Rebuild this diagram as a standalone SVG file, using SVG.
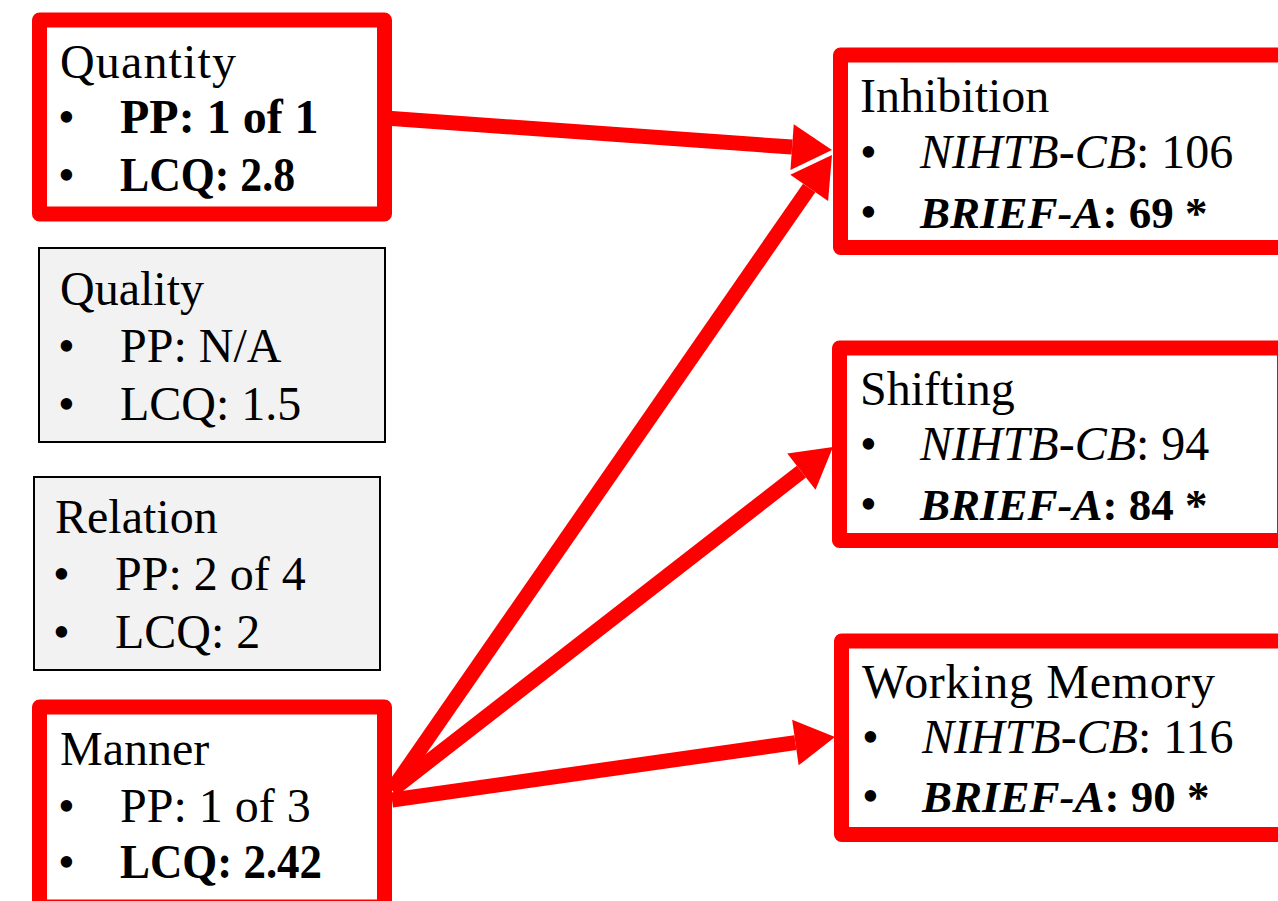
<svg xmlns="http://www.w3.org/2000/svg" width="1278" height="901" viewBox="0 0 1278 901">
<style>
text{font-family:"Liberation Serif","Times New Roman",serif;font-size:48px;fill:#000}
.b{font-weight:bold}
.i{font-style:italic}
.br{font-weight:bold;font-size:45px}
.red{fill:#fff;stroke:#ff0000;stroke-width:15;stroke-linejoin:round}
.gray{fill:#f2f2f2;stroke:#000;stroke-width:2}
.conn{stroke:#ff0000;stroke-width:15;fill:none;marker-end:url(#ah)}
</style>
<defs>
<marker id="ah" markerUnits="userSpaceOnUse" markerWidth="40" markerHeight="46" viewBox="0 0 40 46" refX="0" refY="23" orient="auto" overflow="visible">
<path d="M0,0 L40,23 L0,46 z" fill="#ff0000"/>
</marker>
</defs>
<rect width="1278" height="901" fill="#fff"/>
<g id="quantity">
<rect class="red" x="39.5" y="20" width="345" height="194"/>
<text x="60" y="78" textLength="176" lengthAdjust="spacing">Quantity</text>
<text x="58" y="133">•</text><text class="b" x="120" y="133">PP: 1 of 1</text>
<text x="58" y="191">•</text><text class="b" x="120" y="191" textLength="175" lengthAdjust="spacingAndGlyphs">LCQ: 2.8</text>
</g>
<g id="quality">
<rect class="gray" x="39" y="248" width="346" height="194"/>
<text x="60" y="305">Quality</text>
<text x="58" y="362">•</text><text x="120" y="362">PP: N/A</text>
<text x="58" y="420">•</text><text x="120" y="420">LCQ: 1.5</text>
</g>
<g id="relation">
<rect class="gray" x="34" y="477" width="346" height="193"/>
<text x="55" y="533">Relation</text>
<text x="53" y="590">•</text><text x="115" y="590">PP: 2 of 4</text>
<text x="53" y="648">•</text><text x="115" y="648">LCQ: 2</text>
</g>
<g id="manner">
<rect class="red" x="39.5" y="707" width="345" height="200"/>
<text x="60" y="765">Manner</text>
<text x="58" y="822">•</text><text x="120" y="822">PP: 1 of 3</text>
<text x="58" y="878">•</text><text class="b" x="120" y="878" textLength="202" lengthAdjust="spacingAndGlyphs">LCQ: 2.42</text>
</g>
<g id="inhibition">
<rect class="red" x="840.5" y="55" width="445" height="192.5"/>
<text x="860" y="112">Inhibition</text>
<text x="860" y="168">•</text><text x="920" y="168"><tspan class="i">NIHTB-CB</tspan>: 106</text>
<text x="860" y="228">•</text><text class="br" x="920" y="228"><tspan class="i">BRIEF-A</tspan>: 69 *</text>
</g>
<g id="shifting">
<rect class="red" x="839.5" y="348" width="445" height="192.5"/>
<text x="860" y="405">Shifting</text>
<text x="860" y="460">•</text><text x="920" y="460"><tspan class="i">NIHTB-CB</tspan>: 94</text>
<text x="860" y="520">•</text><text class="br" x="920" y="520"><tspan class="i">BRIEF-A</tspan>: 84 *</text>
</g>
<g id="working-memory">
<rect class="red" x="841.5" y="641" width="445" height="193.5"/>
<text x="862" y="698" textLength="353" lengthAdjust="spacing">Working Memory</text>
<text x="862" y="753">•</text><text x="922" y="753"><tspan class="i">NIHTB-CB</tspan>: 116</text>
<text x="862" y="812">•</text><text class="br" x="922" y="812"><tspan class="i">BRIEF-A</tspan>: 90 *</text>
</g>
<g id="connectors">
<path class="conn" d="M385,118 L792.1,147.1"/>
<path class="conn" d="M392,790 L809.2,187.9"/>
<path class="conn" d="M392,790 L801.4,471.6"/>
<path class="conn" d="M392,800 L795.4,742.6"/>
</g>
</svg>
